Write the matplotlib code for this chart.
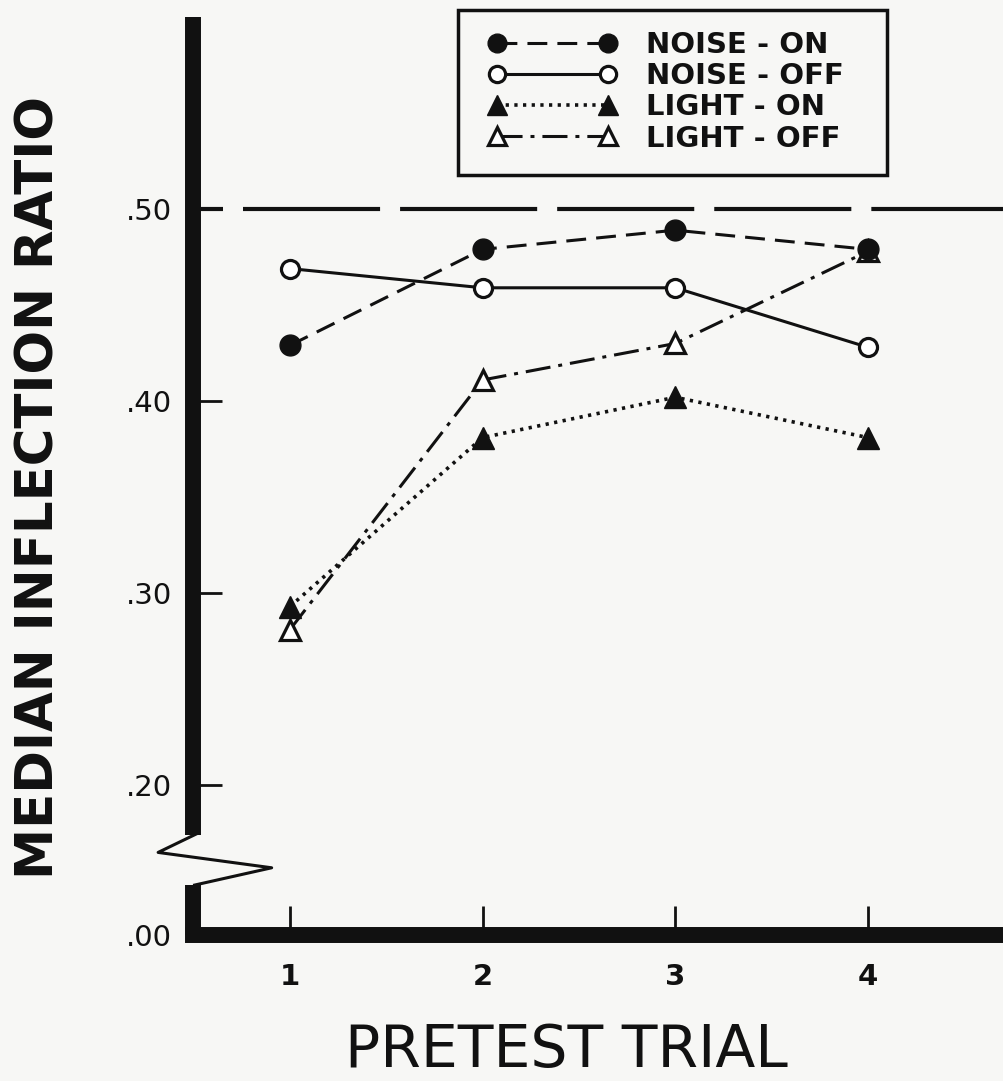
import matplotlib
matplotlib.use("Agg")
import matplotlib.pyplot as plt
from matplotlib.patches import Rectangle

# data
trials = [1, 2, 3, 4]
noise_on = [0.429, 0.479, 0.489, 0.479]
noise_off = [0.469, 0.459, 0.459, 0.428]
light_on = [0.293, 0.381, 0.402, 0.381]
light_off = [0.281, 0.411, 0.430, 0.478]

series_labels = ["NOISE - ON", "NOISE - OFF", "LIGHT - ON", "LIGHT - OFF"]
reference_level = 0.50

# broken axis: the bottom of the axis stands for .00
y_bottom = 0.122
y_ticks = [y_bottom, 0.20, 0.30, 0.40, 0.50]
y_tick_labels = [".00", ".20", ".30", ".40", ".50"]
x_tick_labels = ["1", "2", "3", "4"]

ink = "#111111"
paper = "#f7f7f5"

fig = plt.figure(figsize=(10.04, 10.81), dpi=100, facecolor=paper)
ax = fig.add_axes([193 / 1004, 1 - 935 / 1081, 811 / 1004, 918 / 1081])
ax.set_facecolor(paper)

ax.set_xlim(0.497, 4.706)
ax.set_ylim(y_bottom, 0.60)

# reference line at .50
ax.axhline(reference_level, color=ink, lw=3, linestyle=(25.7, (32.9, 4.8)), zorder=1)

lw = 2.2
h_off, = ax.plot(trials, noise_off, color=ink, lw=lw, marker="o", ms=13,
                 mfc="white", mec=ink, mew=2.3, zorder=3)
h_lon, = ax.plot(trials, light_on, color=ink, lw=2.6, linestyle=(0, (0.9, 1.5)),
                 marker="^", ms=16, mfc=ink, mec=ink, zorder=3)
h_loff, = ax.plot(trials, light_off, color=ink, lw=lw, linestyle=(0, (8.2, 2.6, 1.3, 2.6)),
                  marker="^", ms=15, mfc="white", mec=ink, mew=2.3, zorder=3)
h_on, = ax.plot(trials, noise_on, color=ink, lw=lw, linestyle=(0, (6.5, 3.3)),
                marker="o", ms=15, mfc=ink, mec=ink, zorder=4)

# axes styling
for side in ["top", "right"]:
    ax.spines[side].set_visible(False)
ax.spines["left"].set_linewidth(11.5)
ax.spines["bottom"].set_linewidth(11.5)
ax.spines["left"].set_color(ink)
ax.spines["bottom"].set_color(ink)
ax.spines["left"].set_capstyle("butt")
ax.spines["bottom"].set_capstyle("projecting")
ax.spines["left"].set_bounds(0.174, 0.60)

# lower stub of the y axis and the break zigzag
ytr = ax.get_yaxis_transform()
ax.plot([0, 0], [y_bottom, 0.148], transform=ytr, color=ink, lw=11.5,
        solid_capstyle="butt", clip_on=False, zorder=5)
ax.plot([0.006, -0.043, 0.097, 0.002], [0.175, 0.165, 0.157, 0.148],
        transform=ytr, color=ink, lw=2.2, clip_on=False, zorder=5)

ax.set_yticks(y_ticks)
ax.set_yticklabels(y_tick_labels)
ax.set_xticks(trials)
ax.set_xticklabels(x_tick_labels)
ax.tick_params(axis="both", direction="in", length=21, width=2, color=ink)
ax.tick_params(axis="y", pad=15, labelsize=21, labelcolor=ink)
ax.tick_params(axis="x", pad=20, labelsize=21, labelcolor=ink)
for t in ax.get_xticklabels():
    t.set_fontweight("bold")

ax.set_xlabel("PRETEST TRIAL", fontsize=42, color=ink, va="baseline")
ax.xaxis.set_label_coords(0.461, -0.1437)
ax.set_ylabel("MEDIAN INFLECTION RATIO", fontsize=37, fontweight="bold",
              color=ink, va="baseline")
ax.yaxis.set_label_coords(-0.1726, 0.487)

# legend box
fig.patches.append(Rectangle((458 / 1004, 1 - 175 / 1081), 429 / 1004, 165 / 1081,
                             transform=fig.transFigure, fill=False, edgecolor=ink, lw=2.5))
leg = fig.legend([h_on, h_off, h_lon, h_loff], series_labels, loc="upper left",
                 bbox_to_anchor=(488 / 1004, 1 - 31 / 1081), frameon=False,
                 numpoints=2, handlelength=4.4, handletextpad=1.0, borderpad=0,
                 borderaxespad=0, labelspacing=0.11, fontsize=21, markerscale=0.9)
for t in leg.get_texts():
    t.set_color(ink)
    t.set_fontweight("bold")

fig.savefig("out.png", dpi=100, facecolor=paper)
